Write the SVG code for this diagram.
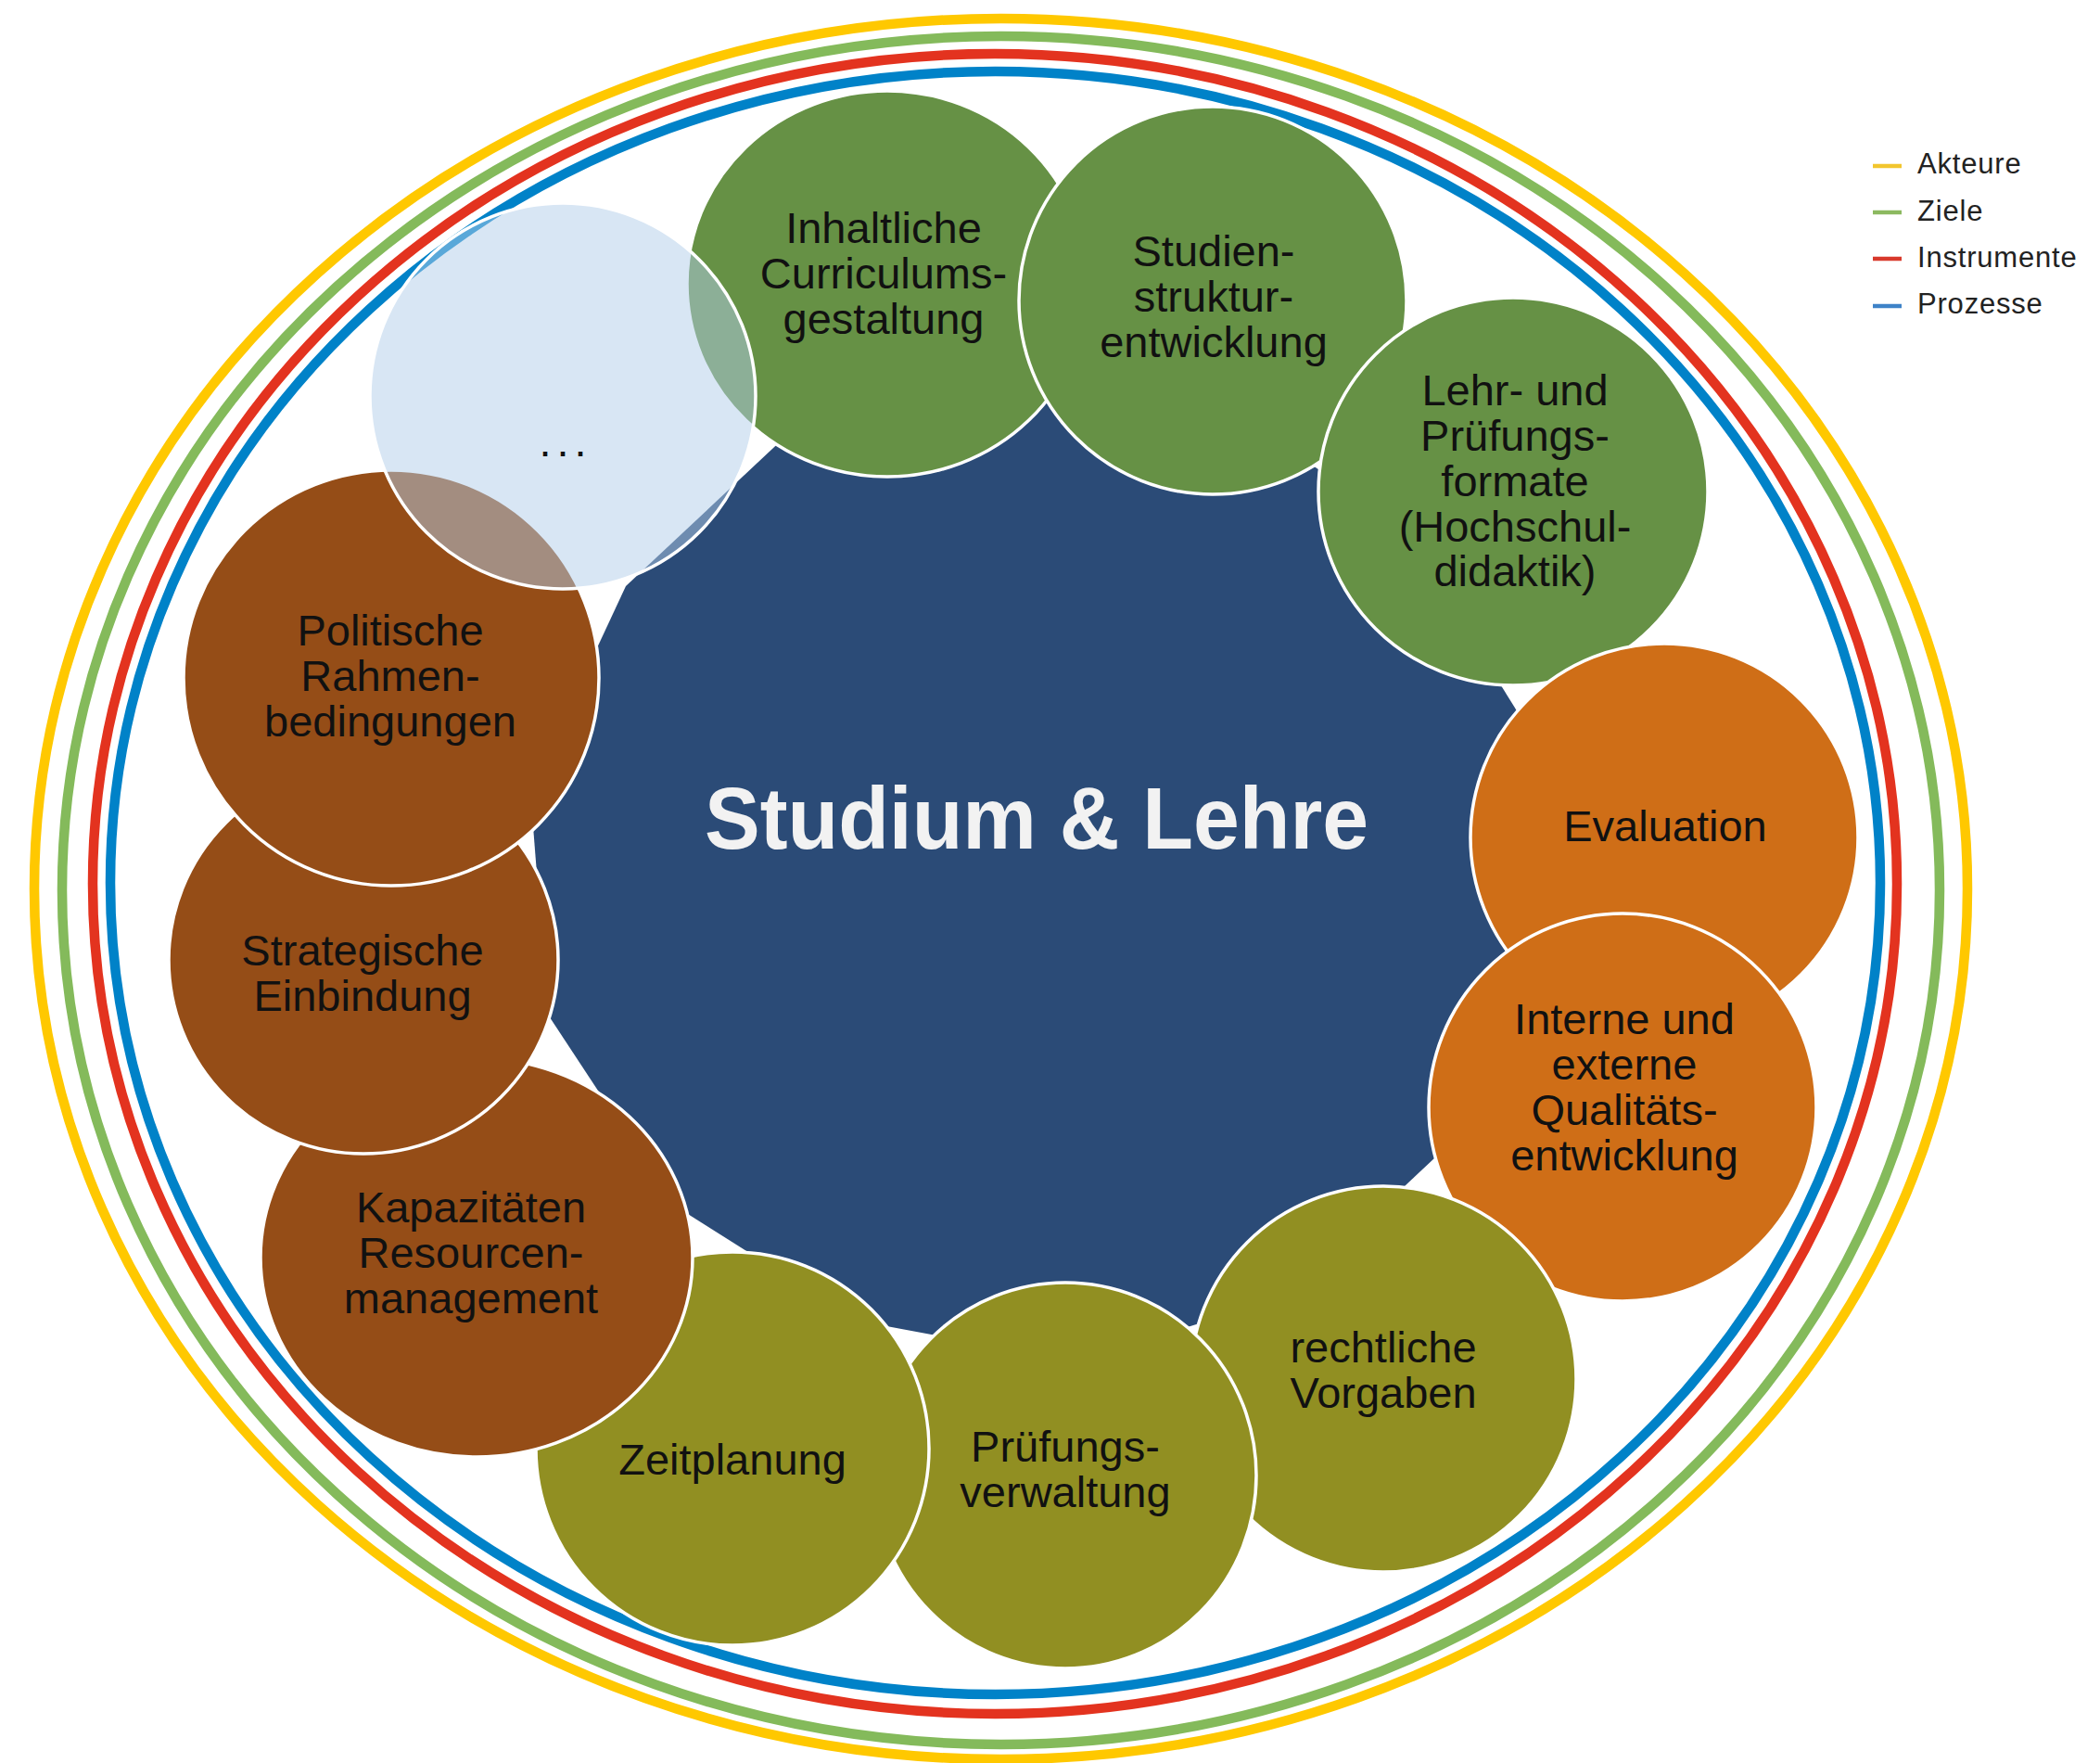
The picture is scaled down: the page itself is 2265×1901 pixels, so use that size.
<svg xmlns="http://www.w3.org/2000/svg" width="2265" height="1901" viewBox="0 0 2265 1901">
<style>
.ring{fill:none;stroke-width:10.5}
.node{stroke:#ffffff;stroke-width:3.5}
.g{fill:#669145}
.o{fill:#cf6e17}
.l{fill:#918f22}
.b{fill:#954d17}
.lbl{font-family:"Liberation Sans",Arial,sans-serif;font-size:47px;fill:#111111;text-anchor:middle}
.leg{font-family:"Liberation Sans",Arial,sans-serif;font-size:31px;letter-spacing:0.8px;fill:#222222}
.legline{stroke-width:4.5}
</style>
<rect width="2265" height="1901" fill="#ffffff"/>
<g id="rings">
<ellipse class="ring" cx="1079.5" cy="958.5" rx="1042.5" ry="938.5" stroke="#ffc800"/>
<ellipse class="ring" cx="1079.5" cy="960" rx="1012.5" ry="921" stroke="#84ba5b"/>
<ellipse class="ring" cx="1073" cy="953" rx="973" ry="895" stroke="#e3331f"/>
<ellipse class="ring" cx="1073.5" cy="952" rx="954.5" ry="875" stroke="#0082c8"/>
</g>
<g id="center">
<polygon points="1388,1398 1160,1468 924,1424 726,1299 591,1094 572,853 675,632 849,469 1078,398 1314,433 1512,567 1640,773 1650,1012 1563,1234" fill="#2b4b77"/>
<text x="1118" y="915" font-family="'Liberation Sans',Arial,sans-serif" font-weight="bold" font-size="95" fill="#f2f2f2" text-anchor="middle" textLength="716" lengthAdjust="spacingAndGlyphs">Studium &amp; Lehre</text>
</g>
<g id="connectors"></g>
<g id="n1"><ellipse class="node g" cx="957" cy="306" rx="216" ry="208"/>
<text class="lbl"><tspan x="953" y="262">Inhaltliche</tspan><tspan x="953" y="311">Curriculums-</tspan><tspan x="953" y="360">gestaltung</tspan></text></g>
<g id="n2"><ellipse class="node g" cx="1308" cy="324" rx="209" ry="209"/>
<text class="lbl"><tspan x="1309" y="287">Studien-</tspan><tspan x="1309" y="336">struktur-</tspan><tspan x="1309" y="385">entwicklung</tspan></text></g>
<g id="n3"><ellipse class="node g" cx="1632" cy="530" rx="210" ry="209"/>
<text class="lbl"><tspan x="1634" y="437">Lehr- und</tspan><tspan x="1634" y="486">Prüfungs-</tspan><tspan x="1634" y="535">formate</tspan><tspan x="1634" y="584">(Hochschul-</tspan><tspan x="1634" y="632">didaktik)</tspan></text></g>
<g id="n4"><ellipse class="node o" cx="1795" cy="903" rx="209" ry="209"/>
<text class="lbl" x="1796" y="907">Evaluation</text></g>
<g id="n5"><ellipse class="node o" cx="1750" cy="1194" rx="209" ry="209"/>
<text class="lbl"><tspan x="1752" y="1115">Interne und</tspan><tspan x="1752" y="1164">externe</tspan><tspan x="1752" y="1213">Qualitäts-</tspan><tspan x="1752" y="1262">entwicklung</tspan></text></g>
<g id="n6"><ellipse class="node l" cx="1492" cy="1487" rx="208" ry="208"/>
<text class="lbl"><tspan x="1492" y="1469">rechtliche</tspan><tspan x="1492" y="1518">Vorgaben</tspan></text></g>
<g id="n7"><ellipse class="node l" cx="1149" cy="1591" rx="206" ry="208"/>
<text class="lbl"><tspan x="1149" y="1576">Prüfungs-</tspan><tspan x="1149" y="1625">verwaltung</tspan></text></g>
<g id="n8"><ellipse class="node l" cx="790" cy="1562" rx="212" ry="212"/>
<text class="lbl" x="790" y="1590">Zeitplanung</text></g>
<g id="n9"><ellipse class="node b" cx="514" cy="1356" rx="233" ry="215"/>
<text class="lbl"><tspan x="508" y="1318">Kapazitäten</tspan><tspan x="508" y="1367">Resourcen-</tspan><tspan x="508" y="1416">management</tspan></text></g>
<g id="n10"><ellipse class="node b" cx="392" cy="1035" rx="210" ry="209"/>
<text class="lbl"><tspan x="391" y="1041">Strategische</tspan><tspan x="391" y="1090">Einbindung</tspan></text></g>
<g id="n11"><ellipse class="node b" cx="422" cy="731" rx="224" ry="224"/>
<text class="lbl"><tspan x="421" y="696">Politische</tspan><tspan x="421" y="745">Rahmen-</tspan><tspan x="421" y="794">bedingungen</tspan></text></g>
<g id="n12"><ellipse cx="607" cy="427" rx="208" ry="208" fill="#b2cde9" fill-opacity="0.5" stroke="#ffffff" stroke-width="3.5"/>
<text class="lbl" x="610" y="492" letter-spacing="6">...</text></g>
<g id="legend">
<line class="legline" x1="2020" y1="179" x2="2051" y2="179" stroke="#f2c62e"/>
<text class="leg" x="2068" y="187">Akteure</text>
<line class="legline" x1="2020" y1="229" x2="2051" y2="229" stroke="#8cb960"/>
<text class="leg" x="2068" y="238">Ziele</text>
<line class="legline" x1="2020" y1="279" x2="2051" y2="279" stroke="#d8392c"/>
<text class="leg" x="2068" y="288">Instrumente</text>
<line class="legline" x1="2020" y1="330" x2="2051" y2="330" stroke="#3e83c8"/>
<text class="leg" x="2068" y="338">Prozesse</text>
</g>
</svg>
